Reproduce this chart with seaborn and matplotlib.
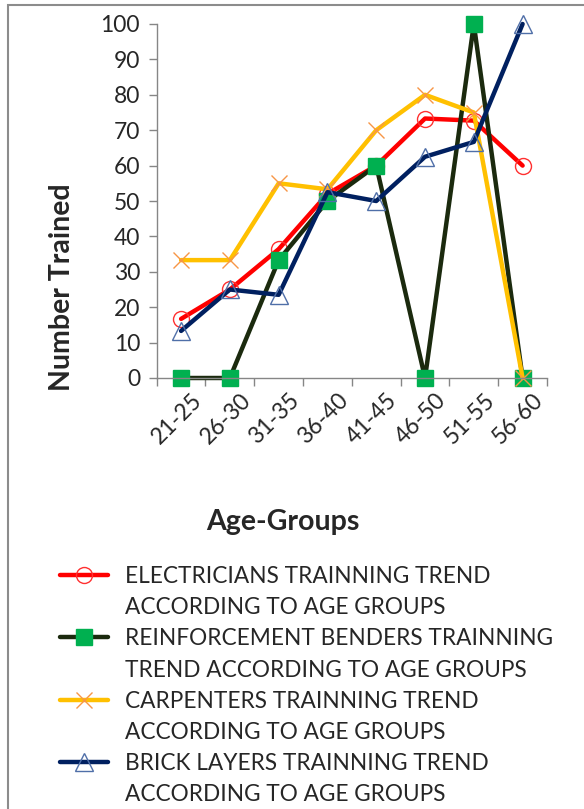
import seaborn as sns
import matplotlib.pyplot as plt
import matplotlib.transforms as mtransforms
from matplotlib.lines import Line2D
from matplotlib.patches import Rectangle
import pandas as pd

age_groups = ["21-25", "26-30", "31-35", "36-40", "41-45", "46-50", "51-55", "56-60"]
electricians = [16.7, 25.0, 36.4, 52.0, 60.0, 73.3, 72.7, 60.0]
benders = [0, 0, 33.3, 50.0, 60.0, 0, 100.0, 0]
carpenters = [33.3, 33.3, 55.0, 53.3, 70.0, 80.0, 75.0, 0]
brick_layers = [13.3, 25.0, 23.5, 52.5, 50.0, 62.5, 66.7, 100.0]

labels = [
    ("ELECTRICIANS TRAINNING TREND", "ACCORDING TO AGE GROUPS"),
    ("REINFORCEMENT BENDERS TRAINNING", "TREND ACCORDING TO AGE GROUPS"),
    ("CARPENTERS TRAINNING TREND", "ACCORDING TO AGE GROUPS"),
    ("BRICK LAYERS TRAINNING TREND", "ACCORDING TO AGE GROUPS"),
]

sns.set_style("white")
plt.rcParams['font.family'] = ['Lato', 'DejaVu Sans']

fig = plt.figure(figsize=(5.84, 8.09), dpi=100)
ax = fig.add_axes([156.7 / 584, 1 - 378 / 809, (547 - 156.7) / 584, (378 - 24) / 809])

styles = [
    dict(color="#FF0000", marker="o", ms=11.5, mfc="none", mec="#FF3030", mew=1.0),
    dict(color="#1B2A0E", marker="s", ms=11.5, mfc="#00B050", mec="#00B050", mew=1.0),
    dict(color="#FFC000", marker="x", ms=12, mfc="none", mec="#F79646", mew=1.0),
    dict(color="#002060", marker="^", ms=12.5, mfc="none", mec="#4F6FA8", mew=1.0),
]
series = [electricians, benders, carpenters, brick_layers]

handles = []
for vals, st in zip(series, styles):
    df = pd.DataFrame({"age": age_groups, "n": vals})
    sns.lineplot(data=df, x="age", y="n", sort=False, ax=ax, color=st["color"],
                 linewidth=3.2, marker=st["marker"], markersize=st["ms"],
                 markerfacecolor=st["mfc"], markeredgecolor=st["mec"],
                 markeredgewidth=st["mew"], clip_on=False)
    handles.append(Line2D([], [], color=st["color"], lw=3.2, marker=st["marker"],
                          ms=st["ms"], mfc=st["mfc"], mec=st["mec"], mew=st["mew"]))

ax.set_xlim(-0.5, len(age_groups) - 0.5)
ax.set_ylim(0, 100)
ax.set_yticks(range(0, 101, 10))
ax.set_xticks(range(len(age_groups)))
ax.set_xticks([i - 0.5 for i in range(len(age_groups) + 1)], minor=True)
ax.set_xlabel("")
ax.set_ylabel("")

for s in ["top", "right"]:
    ax.spines[s].set_visible(False)
for s in ["left", "bottom"]:
    ax.spines[s].set_color("#868686")
    ax.spines[s].set_linewidth(1.0)

ax.tick_params(axis="y", left=True, length=6, width=1, color="#868686",
               labelsize=16.5, pad=6)
ax.tick_params(axis="x", which="major", bottom=False, length=0, labelsize=16.5, pad=8)
ax.tick_params(axis="x", which="minor", bottom=True, length=6, width=1,
               color="#868686", direction="out")

offset = mtransforms.ScaledTranslation(10 / 100, 0, fig.dpi_scale_trans)
for lbl in ax.get_xticklabels():
    lbl.set_rotation(45)
    lbl.set_ha("right")
    lbl.set_rotation_mode("anchor")
    lbl.set_transform(lbl.get_transform() + offset)

fig.text(62 / 584, 1 - 287 / 809, "Number Trained", rotation=90, ha="center",
         va="center", fontsize=20.5, fontweight="bold")
fig.text(283 / 584, 1 - 522 / 809, "Age-Groups", ha="center", va="center",
         fontsize=20.5, fontweight="bold")

blank = Line2D([], [], linestyle="none")
leg_handles = []
leg_labels = []
for h, (l1, l2) in zip(handles, labels):
    leg_handles += [h, blank]
    leg_labels += [l1, l2]
fig.legend(leg_handles, leg_labels, loc="upper left",
           bbox_to_anchor=(60 / 584, 1 - 566 / 809), frameon=False,
           fontsize=16.3, handlelength=2.1, handletextpad=0.75, labelspacing=0.45,
           borderaxespad=0, borderpad=0)

fig.patches.append(Rectangle((8 / 584, -0.02), 1.1, 1 - 5 / 809 + 0.02,
                             transform=fig.transFigure, fill=False,
                             edgecolor="#8C8C8C", linewidth=1.5))

fig.savefig("out.png", dpi=100)
